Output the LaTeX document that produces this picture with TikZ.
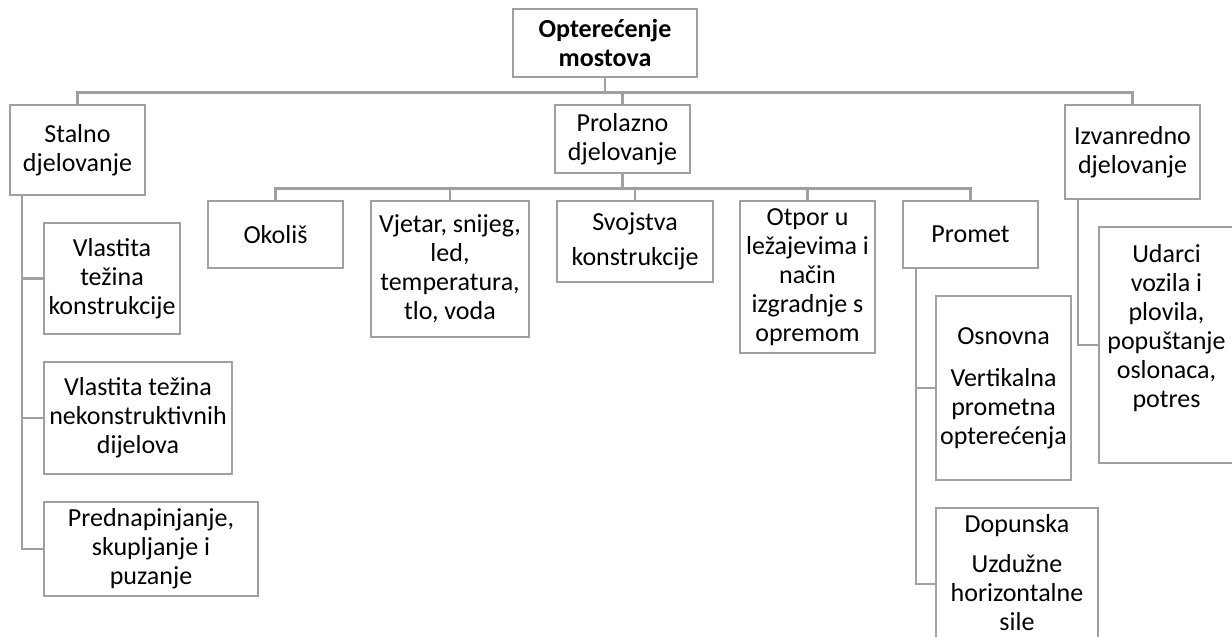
\documentclass[tikz,border=0pt]{standalone}
\usepackage{fontspec}
\setmainfont{Carlito}
\definecolor{boxgray}{RGB}{160,160,160}

\begin{document}
\begin{tikzpicture}[x=1pt,y=-1pt,
  txt/.style={align=center,inner sep=0pt,font=\fontsize{26}{29}\selectfont},
  box/.style={txt,draw=boxgray,line width=2.5pt},
  link/.style={draw=boxgray,line width=2.5pt}]
\useasboundingbox (0,0) rectangle (1232,637);
\clip (0,0) rectangle (1232,637);
% root and first level
\node[box,minimum width=184pt,minimum height=68pt,font=\fontsize{26}{29}\selectfont\bfseries] (root) at (605,43) {Opterećenje\\mostova};
\node[box,minimum width=135pt,minimum height=90pt] (stalno) at (77.5,150) {Stalno\\djelovanje};
\node[box,minimum width=135pt,minimum height=68pt] (prolazno) at (622.5,139) {Prolazno\\djelovanje};
\node[box,minimum width=135pt,minimum height=94pt] (izvanredno) at (1132.5,152) {Izvanredno\\djelovanje};
% prolazno djelovanje
\node[box,minimum width=135pt,minimum height=67pt] (okolis) at (275.5,234.5) {Okoliš};
\node[box,minimum width=158pt,minimum height=136pt] (vjetar) at (450,269) {Vjetar, snijeg,\\led,\\temperatura,\\tlo, voda};
\node[box,minimum width=156pt,minimum height=81pt] (svojstva) at (635,241.5) {Svojstva\\[6pt]konstrukcije};
\node[box,minimum width=135pt,minimum height=152pt] (otpor) at (807.5,277) {Otpor u\\ležajevima i\\način\\izgradnje s\\opremom};
\node[box,minimum width=135pt,minimum height=67pt] (promet) at (970.5,234.5) {Promet};
% stalno djelovanje
\node[box,minimum width=136pt,minimum height=111pt] (vlastita) at (112,278.5) {Vlastita\\težina\\konstrukcije};
\node[box,minimum width=188pt,minimum height=112pt] (nekonstr) at (138,418) {Vlastita težina\\nekonstruktivnih\\dijelova};
\node[box,minimum width=214pt,minimum height=94pt] (prednap) at (151,549) {Prednapinjanje,\\skupljanje i\\puzanje};
% promet
\node[box,minimum width=135pt,minimum height=184pt] (osnovna) at (1003.5,388) {Osnovna\\[13pt]Vertikalna\\prometna\\opterećenja};
\node[box,minimum width=162pt,minimum height=152pt] (dopunska) at (1017,584) {};
\node[txt,anchor=north] (dopunskat) at ([yshift=-7pt]dopunska.north) {Dopunska\\[11pt]Uzdužne\\horizontalne\\sile};
% izvanredno djelovanje
\node[box,minimum width=135pt,minimum height=236pt] (udarci) at (1166.5,345) {};
\node[txt,anchor=north] (udarcit) at ([yshift=-18pt]udarci.north) {Udarci\\vozila i\\plovila,\\popuštanje\\oslonaca,\\potres};
% connectors
\draw[link] (root.south) -- ++(0,14) coordinate (bus1) -| (stalno.north);
\draw[link] (bus1) -| (prolazno.north);
\draw[link] (bus1) -| (izvanredno.north);
\draw[link] (prolazno.south) -- ++(0,14) coordinate (bus2) -| (okolis.north);
\draw[link] (bus2) -| (vjetar.north);
\draw[link] (bus2) -| (svojstva.north);
\draw[link] (bus2) -| (otpor.north);
\draw[link] (bus2) -| (promet.north);
\draw[link] ([xshift=13pt]stalno.south west) |- (vlastita.west);
\draw[link] ([xshift=13pt]stalno.south west) |- (nekonstr.west);
\draw[link] ([xshift=13pt]stalno.south west) |- (prednap.west);
\draw[link] ([xshift=14pt]promet.south west) |- (osnovna.west);
\draw[link] ([xshift=14pt]promet.south west) |- (dopunska.west);
\draw[link] ([xshift=14pt]izvanredno.south west) |- (udarci.west);
\end{tikzpicture}
\end{document}
